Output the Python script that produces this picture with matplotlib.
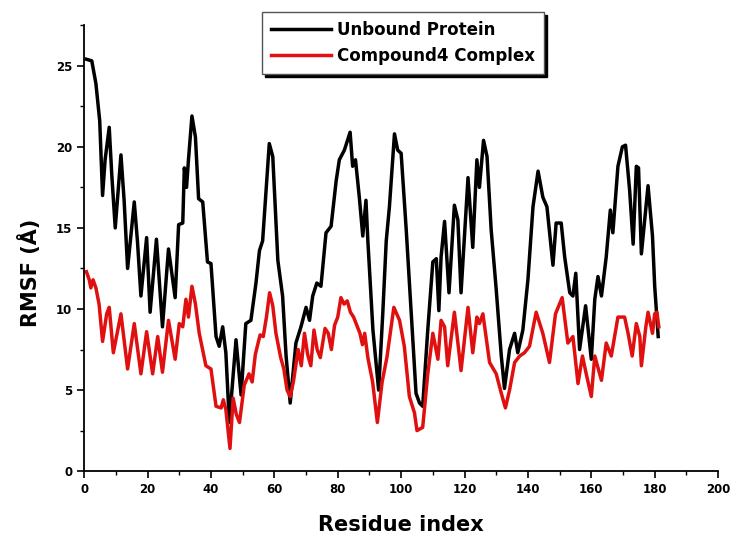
import matplotlib
matplotlib.use("Agg")
import matplotlib.pyplot as plt
from matplotlib.ticker import MultipleLocator

unbound_res = [0.7, 2.4, 3.7, 4.9, 5.8, 6.6, 7.9, 8.7, 9.8, 11.6, 12.6, 13.7, 15.8, 16.8,
               17.9, 19.7, 20.8, 22.8, 24.7, 26.6, 28.7, 29.8, 31.1, 31.6, 32.3, 32.9, 34.0,
               35.1, 36.1, 37.4, 38.9, 40.0, 41.6, 42.6, 43.7, 44.7, 45.8, 47.9, 49.5, 51.0,
               52.6, 54.2, 55.3, 56.3, 58.4, 59.5, 61.1, 62.6, 63.7, 65.0, 66.8, 68.4, 70.0,
               71.1, 72.1, 73.4, 74.7, 76.3, 77.9, 79.5, 80.5, 82.1, 83.9, 84.7, 85.6, 86.8,
               87.9, 88.9, 89.5, 91.1, 92.9, 94.2, 95.3, 96.3, 97.9, 98.9, 100.0, 101.6, 103.2,
               104.7, 105.8, 106.8, 108.4, 110.0, 111.1, 111.9, 112.6, 113.7, 115.1, 116.8,
               117.9, 118.9, 121.1, 122.6, 123.9, 124.7, 126.0, 127.1, 128.4, 130.0, 131.6,
               132.6, 134.2, 135.8, 136.8, 138.4, 140.0, 141.6, 143.2, 144.7, 146.0, 147.9,
               148.9, 150.5, 151.6, 153.2, 154.2, 155.1, 156.3, 158.2, 160.0, 161.1, 162.1,
               163.2, 164.7, 166.0, 166.8, 168.4, 169.8, 170.8, 172.1, 173.2, 174.2, 174.9,
               175.8, 177.9, 179.3, 180.0, 181.1]
unbound_rmsf = [25.4, 25.3, 23.9, 21.6, 17.0, 19.2, 21.2, 18.3, 15.0, 19.5, 16.7, 12.5, 16.6, 14.2,
                10.8, 14.4, 9.8, 14.3, 8.9, 13.7, 10.7, 15.2, 15.3, 18.7, 17.5, 19.2, 21.9,
                20.6, 16.8, 16.6, 12.9, 12.8, 8.3, 7.7, 8.9, 7.3, 3.0, 8.1, 4.7, 9.1,
                9.3, 11.6, 13.6, 14.2, 20.2, 19.4, 13.0, 10.8, 7.1, 4.2, 7.9, 8.9, 10.1,
                9.3, 10.8, 11.6, 11.4, 14.7, 15.1, 17.9, 19.2, 19.8, 20.9, 18.8, 19.2, 16.9,
                14.5, 16.7, 14.2, 8.7, 5.0, 9.7, 14.2, 16.3, 20.8, 19.8, 19.6, 14.9, 9.7,
                4.8, 4.2, 4.0, 8.7, 12.9, 13.1, 9.9, 13.2, 15.4, 11.0, 16.4,
                15.5, 11.0, 18.1, 13.8, 19.2, 17.5, 20.4, 19.4, 14.9, 11.2, 7.1,
                5.1, 7.5, 8.5, 7.3, 8.7, 11.8, 16.3, 18.5, 16.9, 16.3, 12.7,
                15.3, 15.3, 13.2, 11.0, 10.8, 12.2, 7.5, 10.2, 6.9, 10.6, 12.0,
                10.8, 13.2, 16.1, 14.7, 18.8, 20.0, 20.1, 17.3, 14.0, 18.8, 18.7,
                13.4, 17.6, 14.5, 11.4, 8.3]

complex_res = [0.7, 1.6, 2.1, 2.8, 3.7, 4.7, 5.8, 7.1, 7.9, 9.2, 11.6, 13.7, 15.8, 17.9,
               19.7, 21.6, 23.2, 24.7, 26.6, 28.7, 30.0, 31.1, 32.1, 32.9, 34.0, 35.1, 36.3,
               38.4, 40.0, 41.6, 43.2, 43.9, 44.7, 46.0, 47.0, 48.0, 49.0, 50.5, 52.0, 53.0,
               54.0, 55.5, 56.5, 57.5, 58.5, 59.5, 60.5, 62.0, 63.0, 64.0, 65.0, 66.0, 67.5,
               68.5, 69.5, 70.5, 71.5, 72.5, 73.5, 74.5, 76.0, 77.0, 78.0, 79.0, 80.0, 81.0,
               82.0, 83.0, 84.0, 85.0, 86.0, 87.0, 87.8, 88.5, 89.5, 91.0, 92.5, 94.0, 95.5,
               97.7, 99.5, 101.0, 102.6, 104.2, 105.0, 106.8, 108.4, 110.0, 111.6, 112.6,
               113.7, 114.7, 116.8, 118.9, 121.1, 122.6, 123.9, 124.7, 125.8, 127.9, 130.0,
               131.6, 132.9, 134.2, 135.8, 137.4, 138.9, 140.5, 142.6, 144.7, 146.8, 148.7,
               150.8, 152.6, 154.2, 155.8, 157.2, 158.4, 160.0, 161.1, 163.2, 164.7, 166.3,
               168.4, 170.5, 171.6, 172.9, 174.2, 175.3, 175.8, 177.2, 177.9, 179.3, 180.0,
               180.7, 181.3]
complex_rmsf = [12.3, 11.8, 11.3, 11.8, 11.3, 10.3, 8.0, 9.7, 10.1, 7.3, 9.7, 6.3, 9.1, 6.0,
                8.6, 6.0, 8.3, 6.1, 9.3, 6.9, 9.1, 8.9, 10.6, 9.5, 11.4, 10.3, 8.5,
                6.5, 6.3, 4.0, 3.9, 4.4, 3.8, 1.4, 4.5, 3.5, 3.0, 5.3, 6.0, 5.5,
                7.2, 8.4, 8.3, 9.5, 11.0, 10.2, 8.5, 7.0, 6.3, 5.0, 4.6, 5.5, 7.5,
                6.5, 8.5, 7.2, 6.5, 8.7, 7.5, 7.0, 8.8, 8.5, 7.5, 9.0, 9.5, 10.7,
                10.3, 10.5, 9.8, 9.5, 9.0, 8.5, 7.8, 8.5, 7.0, 5.5, 3.0, 5.5, 7.0,
                10.1, 9.3, 7.7, 4.6, 3.6, 2.5, 2.7, 6.0, 8.5, 6.9, 9.3,
                8.9, 6.5, 9.8, 6.2, 10.1, 7.3, 9.5, 9.1, 9.7, 6.7, 6.0,
                4.8, 3.9, 5.0, 6.7, 7.1, 7.3, 7.7, 9.8, 8.5, 6.7, 9.7,
                10.7, 7.9, 8.3, 5.4, 7.1, 6.0, 4.6, 7.1, 5.6, 7.9, 7.1,
                9.5, 9.5, 8.5, 7.1, 9.1, 8.3, 6.5, 8.9, 9.8, 8.5, 9.7,
                9.8, 8.9]

xticks = [0, 20, 40, 60, 80, 100, 120, 140, 160, 180, 200]
yticks = [0, 5, 10, 15, 20, 25]

plt.rcParams['font.family'] = ['DejaVu Sans']
plt.rcParams['font.weight'] = 'bold'

fig = plt.figure(figsize=(7.32, 5.36), dpi=100)
ax = fig.add_axes([0.115, 0.121, 0.866, 0.832])

ax.plot(unbound_res, unbound_rmsf, color='black', lw=2.5, label='Unbound Protein')
ax.plot(complex_res, complex_rmsf, color='#e01010', lw=2.5, label='Compound4 Complex')

ax.set_xlim(0, 200)
ax.set_ylim(0, 27.5)
ax.set_xticks(xticks)
ax.set_yticks(yticks)
ax.xaxis.set_minor_locator(MultipleLocator(10))
ax.yaxis.set_minor_locator(MultipleLocator(2.5))
ax.tick_params(which='major', direction='out', length=5, width=1.2, labelsize=8.5)
ax.tick_params(which='minor', direction='out', length=3, width=1.0)
for lab in ax.get_xticklabels() + ax.get_yticklabels():
    lab.set_fontweight('bold')

ax.spines['top'].set_visible(False)
ax.spines['right'].set_visible(False)
ax.spines['left'].set_linewidth(1.3)
ax.spines['bottom'].set_linewidth(1.3)

ax.set_xlabel('Residue index', fontsize=15, fontweight='bold', labelpad=14)
ax.set_ylabel('RMSF (Å)', fontsize=15, fontweight='bold')
ax.yaxis.set_label_coords(-0.068, 0.445)

leg = fig.legend(loc='upper left', bbox_to_anchor=(0.358, 0.978), fontsize=12,
                 frameon=True, fancybox=False, handlelength=3.6, handletextpad=0.35,
                 borderpad=0.55, borderaxespad=0, labelspacing=0.5,
                 shadow={'color': 'black', 'alpha': 1})
leg.get_frame().set_edgecolor('#555555')
leg.get_frame().set_linewidth(1.0)
for t in leg.get_texts():
    t.set_fontweight('bold')

fig.savefig('out.png', dpi=100)
